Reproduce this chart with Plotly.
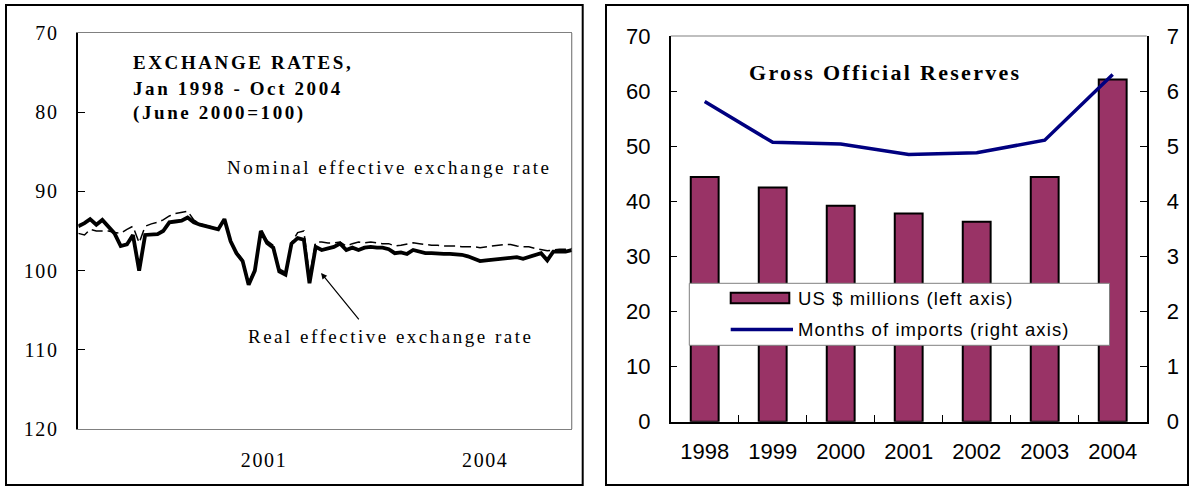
import plotly.graph_objects as go
import pandas as pd

W, H = 1196, 487

# ---------------- data: left panel (monthly, Jan 1998 - Oct 2004) ----------------
months = pd.date_range("1998-01-01", "2004-10-01", freq="MS")
real_eer = [94.4, 94.0, 93.5, 94.2, 93.6, 94.5, 95.3, 96.9, 96.7, 95.5,
            100.0, 95.5, 95.5, 95.4, 95.0, 93.9, 93.8, 93.7, 93.3, 93.9,
            94.2, 94.4, 94.6, 94.8, 93.5, 96.3, 97.8, 98.8, 101.8, 100.0,
            95.0, 96.5, 97.1, 100.1, 100.5, 96.6, 95.9, 96.1, 101.6, 97.0,
            97.4, 97.2, 97.0, 96.6, 97.4, 97.1, 97.4, 97.1, 97.0, 97.1,
            97.1, 97.3, 97.8, 97.7, 97.9, 97.4, 97.6, 97.8, 97.8, 97.9,
            97.9, 97.9, 97.9, 98.0, 98.2, 98.5, 98.8, 98.7, 98.6, 98.5,
            98.5, 98.4, 98.3, 98.5, 98.3, 98.0, 97.8, 98.7, 97.6, 97.6,
            97.6, 97.4]
nominal_eer = [95.3, 95.5, 94.8, 95.0, 95.0, 95.0, 95.2, 95.3, 94.8, 94.4,
               96.5, 94.4, 94.1, 93.9, 93.6, 93.1, 92.8, 92.6, 92.5, 93.6,
               94.1, 94.3, 94.5, 94.7, 93.4, 96.2, 97.6, 98.6, 101.5, 99.8,
               95.0, 96.2, 96.8, 99.8, 100.2, 96.5, 95.2, 95.0, 100.8, 96.4,
               96.4, 96.5, 96.5, 96.4, 96.9, 96.6, 96.4, 96.5, 96.4, 96.5,
               96.6, 96.6, 96.9, 96.8, 96.7, 96.5, 96.6, 96.7, 96.8, 96.8,
               96.9, 96.9, 96.9, 97.0, 97.0, 97.0, 97.1, 97.0, 96.9, 96.8,
               96.7, 96.7, 96.9, 97.0, 97.0, 97.2, 97.3, 97.5, 97.4, 97.3,
               97.3, 97.2]
ex_yticks = [70, 80, 90, 100, 110, 120]
ex_xtick_dates = ["2000-07-17", "2003-07-27"]
ex_xtick_text = ["2001", "2004"]

# ---------------- data: right panel (annual) ----------------
res_years = ["1998", "1999", "2000", "2001", "2002", "2003", "2004"]
reserves_usd = [44.4, 42.5, 39.2, 37.8, 36.3, 44.4, 62.1]
months_imports = [5.81, 5.07, 5.04, 4.85, 4.88, 5.11, 6.30]


def px(x):
    return x / W


def py(y):
    return 1 - y / H


SERIF = "Liberation Serif"
SANS = "Liberation Sans"
PLUM = "#993366"
NAVY = "#000080"

fig = go.Figure()
fig.add_trace(go.Scatter(x=months, y=nominal_eer, mode="lines", xaxis="x", yaxis="y",
                         name="Nominal effective exchange rate",
                         line=dict(color="black", width=1.5, dash="11px,5px"),
                         showlegend=False))
fig.add_trace(go.Scatter(x=months, y=real_eer, mode="lines", xaxis="x", yaxis="y",
                         name="Real effective exchange rate",
                         line=dict(color="black", width=3.8),
                         showlegend=False))
fig.add_trace(go.Bar(x=res_years, y=reserves_usd, xaxis="x2", yaxis="y2",
                     name="US $ millions (left axis)", width=0.41,
                     marker=dict(color=PLUM, line=dict(color="black", width=2)),
                     showlegend=False))
fig.add_trace(go.Scatter(x=res_years, y=months_imports, mode="lines", xaxis="x2", yaxis="y3",
                         name="Months of imports (right axis)",
                         line=dict(color=NAVY, width=3.5),
                         showlegend=False))

shapes = [
    # outer frames
    dict(type="rect", xref="paper", yref="paper", x0=px(6), x1=px(582.7), y0=py(485), y1=py(5),
         line=dict(color="black", width=2), layer="below"),
    dict(type="rect", xref="paper", yref="paper", x0=px(606), x1=px(1188), y0=py(485), y1=py(5),
         line=dict(color="black", width=2), layer="below"),
    # gray plot borders
    dict(type="line", xref="x domain", yref="y domain", x0=1, x1=1, y0=0, y1=1,
         line=dict(color="#808080", width=1.2), layer="below"),
    dict(type="line", xref="x2 domain", yref="y2 domain", x0=0, x1=1, y0=1, y1=1,
         line=dict(color="#808080", width=1.2), layer="below"),
    # legend box
    dict(type="rect", xref="paper", yref="paper", x0=px(689.3), x1=px(1109.5), y0=py(345.3), y1=py(283.3),
         fillcolor="white", line=dict(color="#808080", width=1), layer="above"),
    dict(type="rect", xref="paper", yref="paper", x0=px(730.7), x1=px(789.3), y0=py(303.3), y1=py(292.7),
         fillcolor=PLUM, line=dict(color="black", width=2), layer="above"),
    dict(type="line", xref="paper", yref="paper", x0=px(730.7), x1=px(793), y0=py(329.5), y1=py(329.5),
         line=dict(color=NAVY, width=3.5), layer="above"),
]

bold_serif = dict(family=SERIF, size=19, color="black", weight="bold")
reg_serif = dict(family=SERIF, size=19, color="black")
annotations = [
    dict(text="EXCHANGE RATES,", x=px(131), y=py(63), font=bold_serif),
    dict(text="Jan 1998 - Oct 2004", x=px(131), y=py(88), font=bold_serif),
    dict(text="(June 2000=100)", x=px(131), y=py(113), font=bold_serif),
    dict(text="Nominal effective exchange rate", x=px(225), y=py(167), font=reg_serif),
    dict(text="Real effective exchange rate", x=px(246), y=py(336), font=reg_serif),
    dict(text="", x=0.492, y=0.394, xref="x domain", yref="y domain", showarrow=True,
         ax=39, ay=48, arrowhead=2, arrowsize=1, arrowwidth=1.2, arrowcolor="black"),
    dict(text="Gross Official Reserves", x=px(747), y=py(72.5),
         font=dict(family=SERIF, size=22, color="black", weight="bold")),
    dict(text="US $ millions (left axis)", x=px(796), y=py(298),
         font=dict(family=SANS, size=18.5, color="black")),
    dict(text="Months of imports (right axis)", x=px(796), y=py(329),
         font=dict(family=SANS, size=18.5, color="black")),
]
for a in annotations:
    a.setdefault("xref", "paper")
    a.setdefault("yref", "paper")
    a.setdefault("showarrow", False)
    if a["text"]:
        a.update(xanchor="left", yanchor="middle", align="left")

serif_tick = dict(family=SERIF, size=20, color="black")
sans_tick = dict(family=SANS, size=22, color="black")

fig.update_layout(
    width=W, height=H, autosize=False,
    margin=dict(l=0, r=0, t=0, b=0, pad=0, autoexpand=False),
    paper_bgcolor="white", plot_bgcolor="white",
    showlegend=False,
    shapes=shapes, annotations=annotations,
    xaxis=dict(domain=[px(78.3), px(571.7)], anchor="y", type="date", automargin=False,
               range=[months[0], months[-1]], tickvals=ex_xtick_dates, ticktext=ex_xtick_text,
               ticks="", showline=True, linecolor="#808080", linewidth=1.2, mirror=True,
               showgrid=False, zeroline=False, tickfont=dict(family=SERIF, size=20, color="black"),
               ticklabelstandoff=13),
    yaxis=dict(domain=[py(429), py(33)], anchor="x", range=[120, 70], tickvals=ex_yticks,
               automargin=False,
               ticks="inside", ticklen=7, tickcolor="black", tickwidth=1,
               showline=True, linecolor="black", linewidth=1.5,
               showgrid=False, zeroline=False, tickfont=serif_tick, ticklabelstandoff=14),
    xaxis2=dict(domain=[px(670.7), px(1146.7)], anchor="y2", type="category", range=[-0.5, 6.5],
                automargin=False,
                ticks="inside", tickson="boundaries", ticklen=7, tickcolor="black",
                showline=True, linecolor="black", linewidth=1.5, showgrid=False, zeroline=False,
                tickfont=sans_tick, ticklabelstandoff=9),
    yaxis2=dict(domain=[py(421.7), py(36)], anchor="x2", range=[0, 70], dtick=10,
                automargin=False,
                ticks="inside", ticklen=7, tickcolor="black",
                showline=True, linecolor="black", linewidth=1.5, showgrid=False, zeroline=False,
                tickfont=sans_tick, ticklabelstandoff=14),
    yaxis3=dict(overlaying="y2", anchor="x2", side="right", range=[0, 7], dtick=1,
                automargin=False,
                ticks="inside", ticklen=7, tickcolor="black",
                showline=True, linecolor="black", linewidth=1.5, showgrid=False, zeroline=False,
                tickfont=sans_tick, ticklabelstandoff=14),
)

css = """
html, body { margin: 0; padding: 0; overflow: hidden; }
.annotation[data-index="0"] .annotation-text,
.annotation[data-index="1"] .annotation-text,
.annotation[data-index="2"] .annotation-text { letter-spacing: 2.6px; }
.annotation[data-index="3"] .annotation-text,
.annotation[data-index="4"] .annotation-text { letter-spacing: 2.5px; }
.annotation[data-index="6"] .annotation-text { letter-spacing: 2.3px; }
.annotation[data-index="7"] .annotation-text,
.annotation[data-index="8"] .annotation-text { letter-spacing: 1.1px; }
.subplot.xy .xtick text, .subplot.xy .ytick text { letter-spacing: 1.6px; }
.subplot.x2y2 .xtick text, .subplot.x2y2 .ytick text, .subplot.x2y3 .ytick text { letter-spacing: 1px; }
"""
post = ("var st=document.createElement('style');st.textContent=" + repr(css).replace("\\n", " ")
        + ";document.head.appendChild(st);")

fig.write_html("out.html", config={"displayModeBar": False, "responsive": False}, post_script=post)
